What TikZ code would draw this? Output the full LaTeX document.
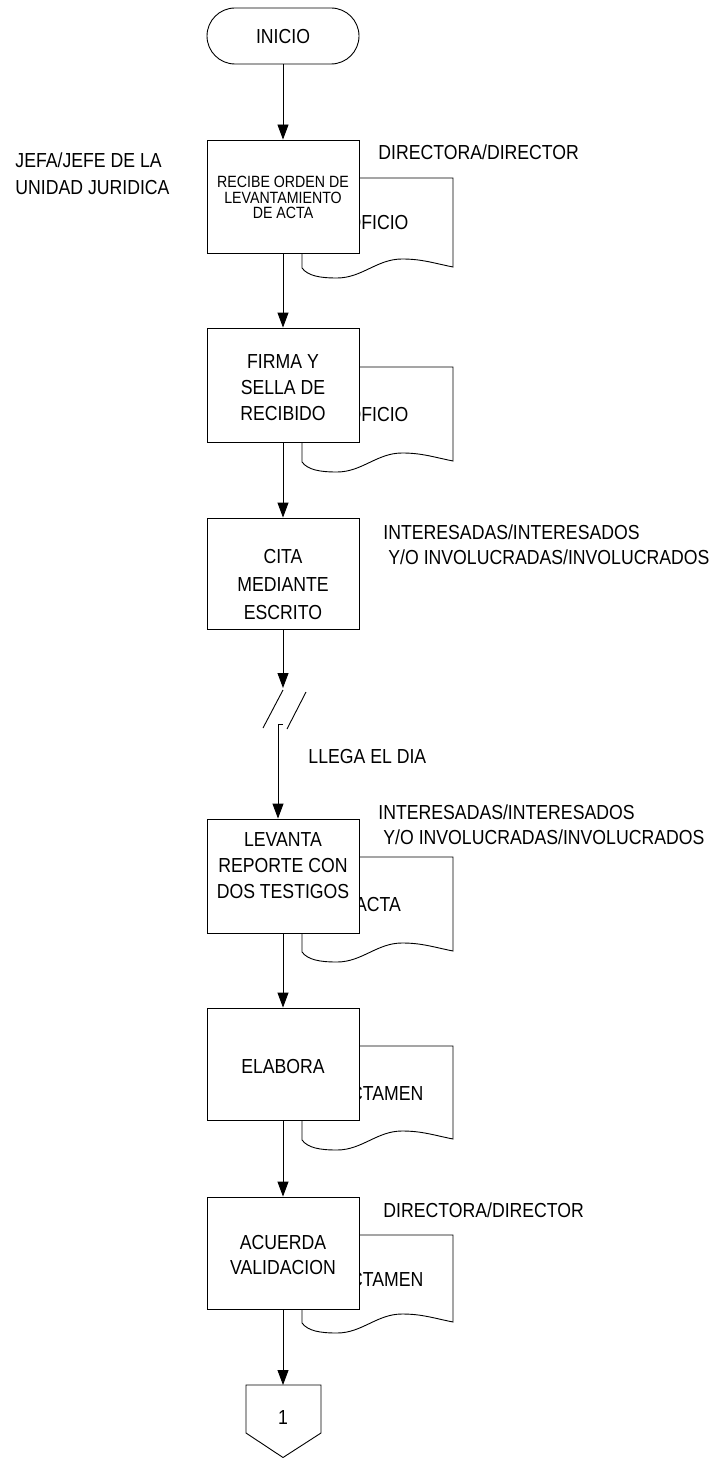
\documentclass[tikz,border=0pt]{standalone}
\usepackage{fontspec}
\setmainfont{Liberation Sans}[FakeStretch=0.87]
\usetikzlibrary{arrows.meta}
\newcommand{\mydoc}[4]{%
  \draw[fill=white] (302,#2) -- (302,#1) -- (453,#1) -- (453,#2-1)
    .. controls (433,#2-5) and (422,#2-9) .. (402,#2-9)
    .. controls (377,#2-9) and (362,#2+10) .. (337,#2+10)
    .. controls (320,#2+10) and (308,#2+8) .. (302,#2) -- cycle;
  \node[ctr] (#3) at (378,{(#1+#2)/2}) {#4};}
\begin{document}
\begin{tikzpicture}[x=1pt,y=-1pt,
  line width=0.9pt,
  every node/.style={font=\fontsize{20.3}{26}\selectfont, inner sep=0pt},
  proc/.style={draw, fill=white, minimum width=152pt},
  arr/.style={-{Triangle[length=15pt,width=11pt]}},
  lbl/.style={anchor=west, align=left},
  ctr/.style={align=center}]
\useasboundingbox (0,0) rectangle (727,1458);

% documents
\mydoc{178}{268}{d1}{OFICIO}
\mydoc{367}{462}{d2}{OFICIO}
\mydoc{857}{952}{d4}{ACTA}
\mydoc{1046}{1140}{d5}{DICTAMEN}
\mydoc{1235}{1323}{d6}{DICTAMEN}

% start
\node[draw, fill=white, rounded corners=28pt, minimum width=152pt, minimum height=56pt] (ini) at (283,36) {};
\node (tini) at (283,37) {INICIO};

% process boxes
\node[proc, minimum height=113pt] (b1) at (283,196.5) {};
\node[proc, minimum height=114pt] (b2) at (283,385) {};
\node[proc, minimum height=111pt] (b3) at (283,573.5) {};
\node[proc, minimum height=114pt] (b4) at (283,876) {};
\node[proc, minimum height=112pt] (b5) at (283,1064) {};
\node[proc, minimum height=112pt] (b6) at (283,1253) {};

\node[ctr, font=\fontsize{16.3}{15.8}\selectfont] (t1) at (283,197.5) {RECIBE ORDEN DE\\LEVANTAMIENTO\\DE ACTA};
\node[ctr] (t2) at (283,388) {FIRMA Y\\SELLA DE\\RECIBIDO};
\node[ctr, font=\fontsize{20.3}{28}\selectfont] (t3) at (283,585) {CITA\\MEDIANTE\\ESCRITO};
\node[ctr] (t4) at (283,866) {LEVANTA\\REPORTE CON\\DOS TESTIGOS};
\node[ctr] (t5) at (283,1066) {ELABORA};
\node[ctr, font=\fontsize{20.3}{25}\selectfont] (t6) at (283,1254.5) {ACUERDA\\VALIDACION};

% side labels
\node[lbl, font=\fontsize{20.3}{27}\selectfont] (jefe) at (15,173.5) {JEFA/JEFE DE LA\\UNIDAD JURIDICA};
\node[lbl] (dir1) at (378,152) {DIRECTORA/DIRECTOR};
\node[lbl, font=\fontsize{20.3}{25}\selectfont] (int1) at (383,544.5) {INTERESADAS/INTERESADOS\\\hspace*{5pt}Y/O INVOLUCRADAS/INVOLUCRADOS};
\node[lbl] (llega) at (308,757) {LLEGA EL DIA};
\node[lbl, font=\fontsize{20.3}{25}\selectfont] (int2) at (378,824.5) {INTERESADAS/INTERESADOS\\\hspace*{5pt}Y/O INVOLUCRADAS/INVOLUCRADOS};
\node[lbl] (dir2) at (383,1210) {DIRECTORA/DIRECTOR};

% off-page connector
\coordinate (offtop) at (283,1385);
\draw (246,1385) -- (321,1385) -- (321,1433) -- (283,1457.5) -- (246,1433) -- cycle;
\node (off) at (283,1417) {1};

% break symbol
\coordinate (bk1) at (283,688);
\coordinate (bk2) at (283,724);
\coordinate (bk3) at (278,724);
\draw (283,690) -- (263,728);
\draw (306,692) -- (287,729);

% connectors
\draw[arr] (ini.south) -- (b1.north);
\draw[arr] (b1.south) -- (b2.north);
\draw[arr] (b2.south) -- (b3.north);
\draw[arr] (b3.south) -- (bk1);
\draw[arr] (bk2) -- (bk3) -- (bk3 |- b4.north);
\draw[arr] (b4.south) -- (b5.north);
\draw[arr] (b5.south) -- (b6.north);
\draw[arr] (b6.south) -- (offtop);
\end{tikzpicture}
\end{document}
